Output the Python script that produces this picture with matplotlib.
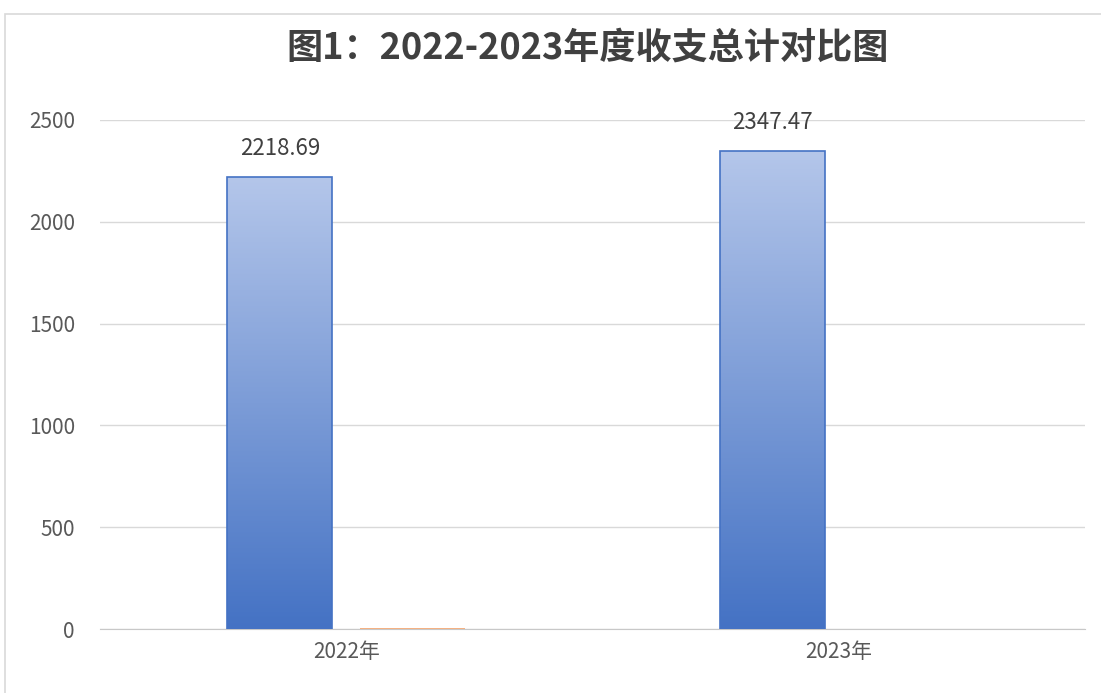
import matplotlib.pyplot as plt
import numpy as np
from matplotlib.patches import Rectangle
from matplotlib.colors import LinearSegmentedColormap

plt.rcParams['font.family'] = ['Noto Sans CJK SC', 'DejaVu Sans']

# data
categories = ['2022年', '2023年']
series_a = [2218.69, 2347.47]   # blue bars (labelled)
series_b = [6.0, 0.0]           # orange bars (nearly zero)
yticks = [0, 500, 1000, 1500, 2000, 2500]

fig = plt.figure(figsize=(11.01, 6.93), dpi=100)
fig.patches.append(Rectangle((5 / 1101, -0.05), 1.1, 0.05 + (693 - 14) / 693,
                             transform=fig.transFigure, fill=False,
                             edgecolor='#d9d9d9', linewidth=1.2))

ax = fig.add_axes([100 / 1101, 64 / 693, 985 / 1101, 509 / 693])
x = np.arange(len(categories))
w = 0.213
off = 0.135

cmap = LinearSegmentedColormap.from_list('blu', ['#4472c4', '#b4c6ea'])
grad = np.linspace(0, 1, 256).reshape(-1, 1)

bars = ax.bar(x - off, series_a, w, color='none', edgecolor='#4472c4',
              linewidth=1.2, zorder=3)
for b in bars:
    x0, y0 = b.get_x(), b.get_y()
    im = ax.imshow(grad, cmap=cmap, origin='lower', aspect='auto',
                   extent=[x0, x0 + b.get_width(), y0, y0 + b.get_height()],
                   zorder=2)
    im.set_clip_path(b)
ax.bar(x + off, series_b, w, color='#f4b183', linewidth=0, zorder=3)

for xi, v in zip(x - off, series_a):
    ax.text(xi, v + 85, f'{v:.2f}', ha='center', va='bottom',
            fontsize=16, color='#404040')

ax.set_xlim(-0.5, 1.5)
ax.set_ylim(0, 2500)
ax.set_yticks(yticks)
ax.set_xticks(x)
ax.set_xticklabels(categories)
ax.tick_params(axis='both', length=0, labelsize=15, colors='#595959')
ax.tick_params(axis='y', pad=18)
ax.tick_params(axis='x', pad=9)
ax.grid(axis='y', color='#d9d9d9', linewidth=1, zorder=0)
for s in ['top', 'right', 'left']:
    ax.spines[s].set_visible(False)
ax.spines['bottom'].set_color('#c8c8c8')
ax.set_axisbelow(True)

fig.text(588 / 1101, 1 - 48 / 693, '图1：2022-2023年度收支总计对比图',
         ha='center', va='center', fontsize=26, fontweight='bold',
         color='#404040')

fig.savefig('out.png', dpi=100)
